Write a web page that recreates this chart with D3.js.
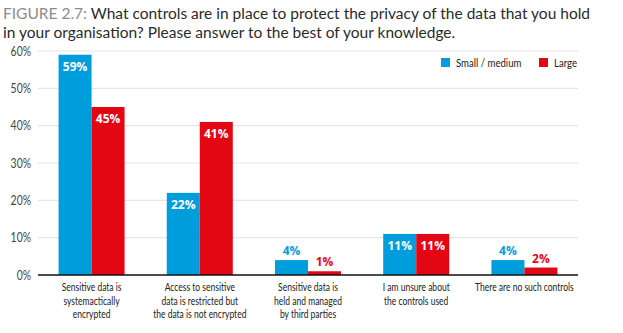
<!DOCTYPE html>
<html>
<head>
<meta charset="utf-8">
<script src="https://cdn.jsdelivr.net/npm/d3@7"></script>
<style>
  body { margin: 0; background: #fff; }
  svg { display: block; }
</style>
</head>
<body>
<div id="chart"></div>
<script>
var categories = [
  ['Sensitive data is', 'systemactically', 'encrypted'],
  ['Access to sensitive', 'data is restricted but', 'the data is not encrypted'],
  ['Sensitive data is', 'held and managed', 'by third parties'],
  ['I am unsure about', 'the controls used'],
  ['There are no such controls']
]
var seriesNames = ['Small / medium', 'Large']
var smallMedium = [59, 22, 4, 11, 4]
var large = [45, 41, 1, 11, 2]
var yTicks = [0, 10, 20, 30, 40, 50, 60]

var COLOR = { BLUE: '#009ddc', RED: '#e30613', GRID: '#e6e6e6', TEXT: '#333' }
// condensed look for the small labels
var NARROW = 'Lato, sans-serif'
var SQUEEZE = 0.8

var width = 623
var height = 333
var margin = { top: 51, bottom: 58, left: 38, right: 45 }
var innerW = width - margin.left - margin.right
var innerH = height - margin.top - margin.bottom

var svg = d3.select('#chart')
  .append('svg')
  .attr('width', width)
  .attr('height', height)

// title
var title = svg.append('text')
  .attr('x', 3)
  .attr('y', 19)
  .attr('font-family', 'Lato, "Open Sans", sans-serif')
  .attr('font-size', '15.5px')
  .attr('fill', '#2b2b2b')
title.append('tspan').attr('fill', '#8c8c8c').text('FIGURE 2.7: ')
title.append('tspan').text('What controls are in place to protect the privacy of the data that you hold')
svg.append('text')
  .attr('x', 3)
  .attr('y', 38)
  .attr('font-family', 'Lato, "Open Sans", sans-serif')
  .attr('font-size', '15.5px')
  .attr('fill', '#2b2b2b')
  .text('in your organisation? Please answer to the best of your knowledge.')

var g = svg.append('g')
  .attr('transform', 'translate(' + margin.left + ',' + margin.top + ')')

// scales
var x = d3.scaleBand()
  .domain(d3.range(categories.length))
  .range([0, innerW])
  .paddingInner(0.39)
  .paddingOuter(0.19)

var x1 = d3.scaleBand()
  .domain([0, 1])
  .range([0, x.bandwidth()])

var y = d3.scaleLinear()
  .domain([0, 60])
  .range([innerH, 0])

// gridlines
g.append('g')
  .selectAll('line')
  .data(yTicks.slice(1))
  .enter()
  .append('line')
  .attr('x1', 0)
  .attr('x2', innerW)
  .attr('y1', d => y(d))
  .attr('y2', d => y(d))
  .attr('stroke', COLOR.GRID)
  .attr('stroke-width', 1.2)

// y axis labels
g.append('g')
  .attr('class', 'y-axis')
  .call(d3.axisLeft(y).tickValues(yTicks).tickSize(0).tickPadding(0).tickFormat(d => d + '%'))
  .call(a => a.select('.domain').remove())
  .selectAll('text')
  .attr('x', 0)
  .attr('transform', 'translate(-7,0) scale(' + SQUEEZE + ',1)')
  .attr('font-family', NARROW)
  .attr('font-size', '13px')
  .attr('fill', '#444')

// bars
var data = [smallMedium, large]
var colors = [COLOR.BLUE, COLOR.RED]

data.forEach(function (series, s) {
  var grp = g.append('g')
  grp.selectAll('rect')
    .data(series)
    .enter()
    .append('rect')
    .attr('x', (d, i) => x(i) + x1(s))
    .attr('y', d => y(d))
    .attr('width', x1.bandwidth())
    .attr('height', d => innerH - y(d))
    .attr('fill', colors[s])

  grp.selectAll('text')
    .data(series)
    .enter()
    .append('text')
    .attr('x', (d, i) => x(i) + x1(s) + x1.bandwidth() / 2)
    .attr('y', d => d >= 10 ? y(d) + 16 : y(d) - 5)
    .attr('text-anchor', 'middle')
    .attr('font-family', '"Open Sans", sans-serif')
    .attr('font-weight', 'bold')
    .attr('font-size', '12px')
    .attr('fill', d => d >= 10 ? '#fff' : colors[s])
    .text(d => d + '%')
})

// baseline
g.append('line')
  .attr('x1', 0)
  .attr('x2', innerW)
  .attr('y1', innerH)
  .attr('y2', innerH)
  .attr('stroke', '#111')
  .attr('stroke-width', 1.3)

// category labels, one text per line
var cat = g.append('g')
  .selectAll('g')
  .data(categories)
  .enter()
  .append('g')
  .attr('transform', (d, i) => 'translate(' + (x(i) + x.bandwidth() / 2) + ',' + (innerH + 16) + ')')

cat.selectAll('text')
  .data(d => d)
  .enter()
  .append('text')
  .attr('transform', (d, i) => 'translate(0,' + (i * 13.5) + ') scale(0.76,1)')
  .attr('text-anchor', 'middle')
  .attr('font-family', NARROW)
  .attr('font-size', '11.2px')
  .attr('fill', '#222')
  .text(d => d)

// legend
var legend = g.append('g')
  .attr('transform', 'translate(' + (innerW - 137) + ',' + 7 + ')')

legend.append('rect')
  .attr('x', -8)
  .attr('y', -6)
  .attr('width', 145)
  .attr('height', 22)
  .attr('fill', '#fff')

var legendX = [0, 98]
seriesNames.forEach(function (name, s) {
  legend.append('rect')
    .attr('x', legendX[s])
    .attr('y', 0)
    .attr('width', 9)
    .attr('height', 9)
    .attr('fill', colors[s])
  legend.append('text')
    .attr('transform', 'translate(' + (legendX[s] + 15) + ',8.5) scale(' + SQUEEZE + ',1)')
    .attr('font-family', NARROW)
    .attr('font-size', '12px')
    .attr('fill', '#222')
    .text(name)
})
</script>
</body>
</html>
